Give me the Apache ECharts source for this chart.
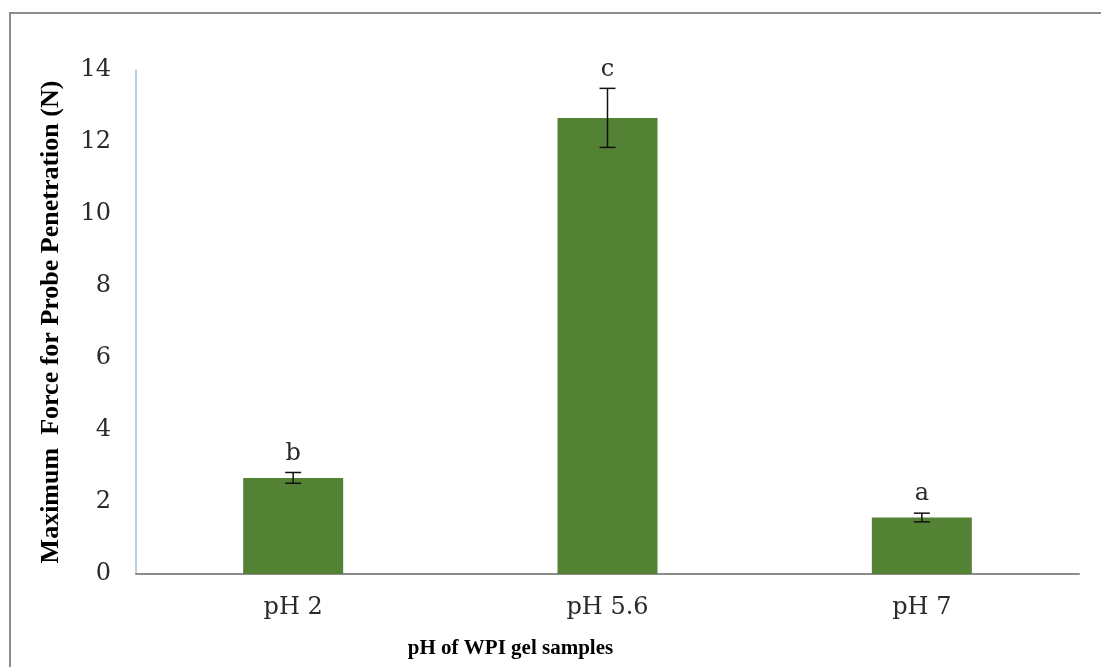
<!DOCTYPE html>
<html><head><meta charset="utf-8">
<script src="https://cdn.jsdelivr.net/npm/echarts@6/dist/echarts.min.js"></script>
<style>
html,body{margin:0;padding:0;background:#fff;}
#frame{position:absolute;left:9px;top:12px;width:1100px;height:670px;border-top:2px solid #8c8c8c;border-left:2px solid #8c8c8c;box-sizing:border-box;}
#chart{position:absolute;left:0;top:0;width:1101px;height:667px;}
</style></head>
<body><div id="frame"></div><div id="chart"></div>
<script>
const categories = ['pH 2', 'pH 5.6', 'pH 7'];
const values = [2.67, 12.67, 1.57];
const errors = [0.15, 0.82, 0.12];
const letters = ['b', 'c', 'a'];
const yTicks = [0, 2, 4, 6, 8, 10, 12, 14];

const chart = echarts.init(document.getElementById('chart'));
const serif = '"Liberation Serif", "DejaVu Serif", serif';
const wideSerif = '"DejaVu Serif", serif';
chart.setOption({
  animation: false,
  grid: { left: 136, right: 22, top: 70, bottom: 93 },
  xAxis: {
    type: 'category', data: categories,
    name: 'pH of WPI gel samples', nameLocation: 'middle', nameGap: 64,
    nameTextStyle: { fontFamily: serif, fontWeight: 'bold', fontSize: 21, color: '#000',
      padding: [0, 194, 0, 0] },
    axisLine: { lineStyle: { color: '#8c8c8c', width: 2 } },
    axisTick: { show: false },
    axisLabel: { fontFamily: wideSerif, fontSize: 24, color: '#2a2a2a', margin: 22 }
  },
  yAxis: {
    type: 'value', min: 0, max: 14, interval: 2,
    name: 'Maximum  Force for Probe Penetration (N)', nameLocation: 'middle', nameGap: 72,
    nameTextStyle: { fontFamily: serif, fontWeight: 'bold', fontSize: 26, color: '#000' },
    axisLine: { show: true, lineStyle: { color: '#a9bccf', width: 1.5 } },
    axisTick: { show: false },
    splitLine: { show: false },
    axisLabel: { fontFamily: wideSerif, fontSize: 24, color: '#2a2a2a', margin: 25,
      formatter: v => yTicks.includes(v) ? String(v) : '' }
  },
  series: [
    {
      type: 'bar', data: values, barWidth: 100,
      itemStyle: { color: '#548235' }
    },
    {
      type: 'custom',
      data: categories.map((c, i) => [i, values[i], errors[i]]),
      renderItem: function (params, api) {
        const x = api.value(0);
        const v = api.value(1), e = api.value(2);
        const top = api.coord([x, v + e]);
        const bot = api.coord([x, v - e]);
        const hw = 8;
        const st = { stroke: '#111', lineWidth: 1.5 };
        return {
          type: 'group', children: [
            { type: 'line', shape: { x1: top[0], y1: top[1], x2: bot[0], y2: bot[1] }, style: st },
            { type: 'line', shape: { x1: top[0] - hw, y1: top[1], x2: top[0] + hw, y2: top[1] }, style: st },
            { type: 'line', shape: { x1: bot[0] - hw, y1: bot[1], x2: bot[0] + hw, y2: bot[1] }, style: st },
            { type: 'text', style: { text: letters[params.dataIndex], x: top[0], y: top[1] - 7,
              align: 'center', verticalAlign: 'bottom', font: '24px ' + wideSerif, fill: '#2a2a2a' } }
          ]
        };
      },
      z: 5
    }
  ]
});
</script></body></html>
